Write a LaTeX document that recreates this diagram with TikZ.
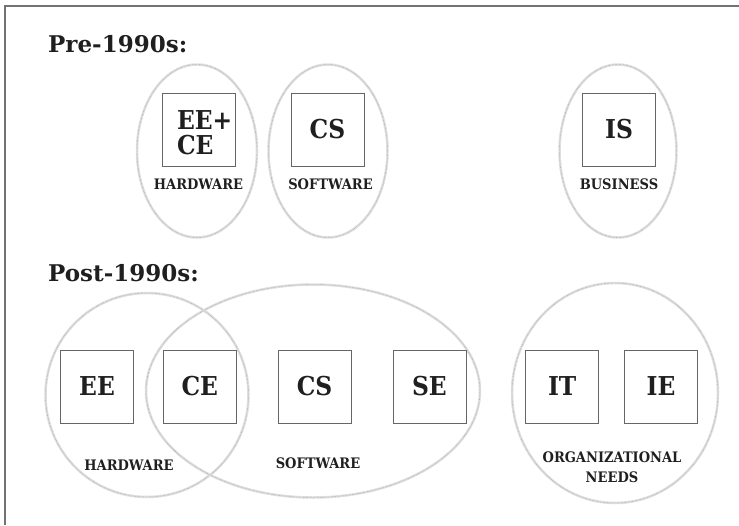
\documentclass[tikz,border=0pt]{standalone}
\usepackage{fontspec}
\setmainfont{DejaVu Serif}
\newfontfamily\tagfont{DejaVu Serif Condensed}
\usepackage{tikz}
\usetikzlibrary{shapes.geometric, positioning}

\begin{document}
\begin{tikzpicture}[
			x=1pt, y=-1pt,
			node distance=10pt and 29pt,
			field/.style={draw=black!60, line width=0.8pt, minimum width=73pt, minimum height=73pt, inner sep=0pt, text=black!88, font=\tagfont\fontsize{26}{25}\selectfont\bfseries},
			area/.style={ellipse, draw=black!13, line width=2.5pt, inner sep=0pt, postaction={draw=black!45, densely dotted, line width=0.4pt}},
			tag/.style={text=black!88, align=center, inner sep=2pt, font=\tagfont\fontsize{14.5}{20}\selectfont\bfseries},
			heading/.style={anchor=base west, inner sep=0pt, text=black!88, font=\fontsize{23}{28}\selectfont\bfseries}
			]
			\useasboundingbox (0,0) rectangle (739,525);
			
			% Frame
			\draw[black!55, line width=1.2pt] (739,6) -- (5,6) -- (5,525);
			
			% Pre-1990s
			\node (pre) [heading] at (48,52) {Pre-1990s:};
			\node (prehw) [area, minimum width=120pt, minimum height=173pt] at (197,151) {};
			\node (presw) [area, minimum width=119pt, minimum height=173pt] at (328,151) {};
			\node (prebus) [area, minimum width=117pt, minimum height=173pt] at (618,151) {};
			\node (eece) [field, align=left, text width=43pt, text height=25pt, text depth=25pt] at (198.5,129.5) {EE+\\CE};
			\node (precs) [field] at (327.5,129.5) {CS};
			\node (is) [field] at (619,129.5) {IS};
			\node (prehwtag) [tag, below=of eece] {HARDWARE};
			\node (preswtag) [tag, below=of precs, xshift=3pt] {SOFTWARE};
			\node (bustag) [tag, below=of is] {BUSINESS};
			
			% Post-1990s
			\node (post) [heading] at (48,281) {Post-1990s:};
			\node (posthw) [area, minimum width=203pt, minimum height=204pt] at (147,395) {};
			\node (postsw) [area, minimum width=334pt, minimum height=213pt] at (313,391) {};
			\node (org) [area, minimum width=206pt, minimum height=220pt] at (615,393) {};
			\node (ee) [field] at (97,386.5) {EE};
			\node (ce) [field, right=of ee] {CE};
			\node (cs) [field, right=41pt of ce] {CS};
			\node (se) [field, right=41pt of cs] {SE};
			\node (it) [field, right=59pt of se] {IT};
			\node (ie) [field, right=25pt of it] {IE};
			\node (posthwtag) [tag] at (129,465) {HARDWARE};
			\node (postswtag) [tag] at (318,463) {SOFTWARE};
			\node (orgtag) [tag] at (612,467) {ORGANIZATIONAL\\NEEDS};
			
		\end{tikzpicture}
\end{document}
